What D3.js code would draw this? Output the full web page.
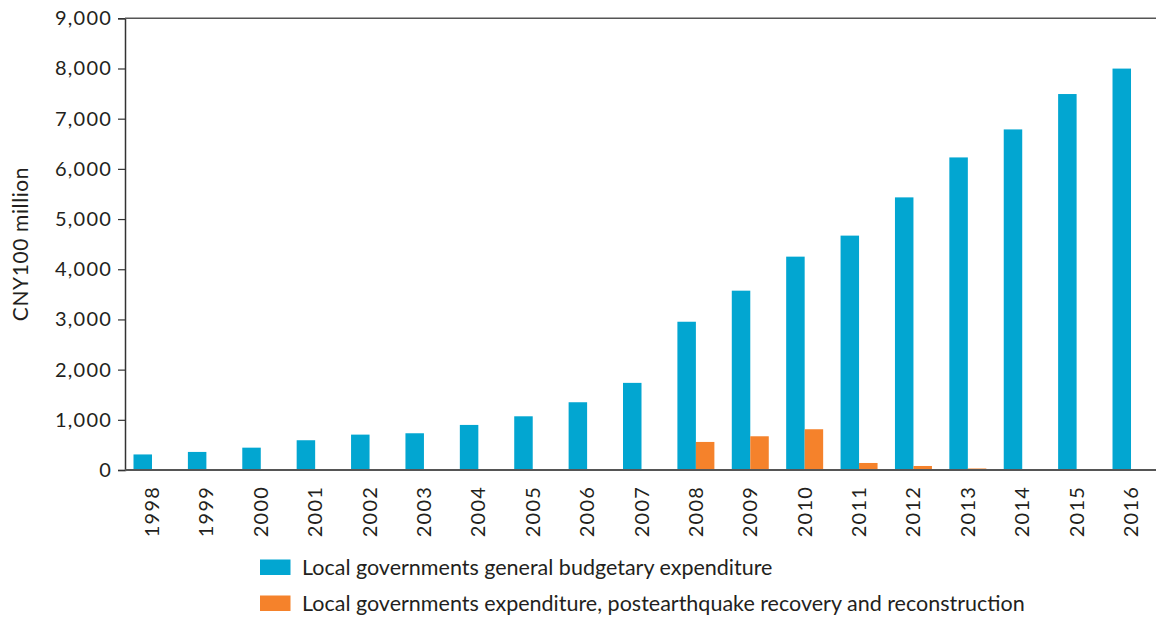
<!DOCTYPE html>
<html>
<head>
<meta charset="utf-8">
<script src="https://cdn.jsdelivr.net/npm/d3@7"></script>
<style>
  html, body { margin: 0; padding: 0; background: #fff; }
  svg { display: block; }
  text { font-family: Lato, "Open Sans", sans-serif; fill: #231f20; }
</style>
</head>
<body>
<svg id="chart" width="1156" height="617"></svg>
<script>
const years = ["1998","1999","2000","2001","2002","2003","2004","2005","2006","2007","2008","2009","2010","2011","2012","2013","2014","2015","2016"];
const generalExpenditure = [310, 360, 445, 593, 705, 732, 898, 1070, 1350, 1736, 2954, 3573, 4251, 4670, 5432, 6228, 6786, 7491, 7998];
const quakeExpenditure = [0, 0, 0, 0, 0, 0, 0, 0, 0, 0, 559, 672, 812, 140, 80, 30, 0, 0, 0];
const yTicks = [0, 1000, 2000, 3000, 4000, 5000, 6000, 7000, 8000, 9000];
const seriesNames = ["Local governments general budgetary expenditure", "Local governments expenditure, postearthquake recovery and reconstruction"];
const seriesColors = ["#02a6d1", "#f5822b"];
const yTitle = "CNY100 million";

const svg = d3.select("#chart");
const axisLeft = 125, axisRight = 1156;

const y = d3.scaleLinear().domain([0, 9000]).range([470, 18.3]);
const x = d3.scaleBand().domain(years).range([133.5, 1149.5]).paddingInner(0.32).paddingOuter(0);
const xSub = d3.scaleBand().domain([0, 1]).range([0, x.bandwidth()]).padding(0);

// bars
const seriesData = [generalExpenditure, quakeExpenditure];
seriesData.forEach((vals, si) => {
  svg.append("g").selectAll("rect")
    .data(years.map((yr, i) => ({ yr, v: vals[i] })))
    .join("rect")
    .attr("x", d => x(d.yr) + xSub(si))
    .attr("width", xSub.bandwidth())
    .attr("y", d => y(d.v))
    .attr("height", d => y(0) - y(d.v))
    .attr("fill", seriesColors[si]);
});

// y axis
const yAxis = svg.append("g")
  .attr("transform", `translate(${axisLeft},0)`)
  .call(d3.axisLeft(y).tickValues(yTicks).tickFormat(d3.format(",")).tickSize(7).tickPadding(6));
yAxis.select(".domain").attr("stroke", "#333").attr("stroke-width", 1.5);
yAxis.selectAll(".tick line").attr("stroke", "#333").attr("stroke-width", 1.2);
yAxis.selectAll(".tick text").style("font-size", "20px").style("letter-spacing", "1.2px").attr("fill", "#231f20");

// top and bottom lines
svg.append("line").attr("x1", axisLeft).attr("x2", axisRight).attr("y1", y(9000)).attr("y2", y(9000))
  .attr("stroke", "#555").attr("stroke-width", 1.5);
svg.append("line").attr("x1", axisLeft).attr("x2", axisRight).attr("y1", y(0)).attr("y2", y(0))
  .attr("stroke", "#555").attr("stroke-width", 2);

// x axis labels
const xAxis = svg.append("g")
  .attr("transform", `translate(0,${y(0)})`)
  .call(d3.axisBottom(x).tickSize(0).tickPadding(0));
xAxis.select(".domain").remove();
xAxis.selectAll(".tick text")
  .attr("transform", "translate(0,16) rotate(-90)")
  .attr("text-anchor", "end")
  .attr("x", 0).attr("y", 0).attr("dy", "0.35em")
  .style("font-size", "20px").style("letter-spacing", "1.2px").attr("fill", "#231f20");

// y title
svg.append("text")
  .attr("transform", "translate(28,244) rotate(-90)")
  .attr("text-anchor", "middle")
  .style("font-size", "21px")
  .style("letter-spacing", "0.6px")
  .text(yTitle);

// legend
const legend = svg.append("g");
seriesNames.forEach((name, i) => {
  const ly = 559.5 + i * 36;
  legend.append("rect").attr("x", 260).attr("y", ly).attr("width", 30.5).attr("height", 15.5).attr("fill", seriesColors[i]);
  legend.append("text").attr("x", 302).attr("y", ly + 15.5).style("font-size", "21.5px").text(name);
});
</script>
</body>
</html>
